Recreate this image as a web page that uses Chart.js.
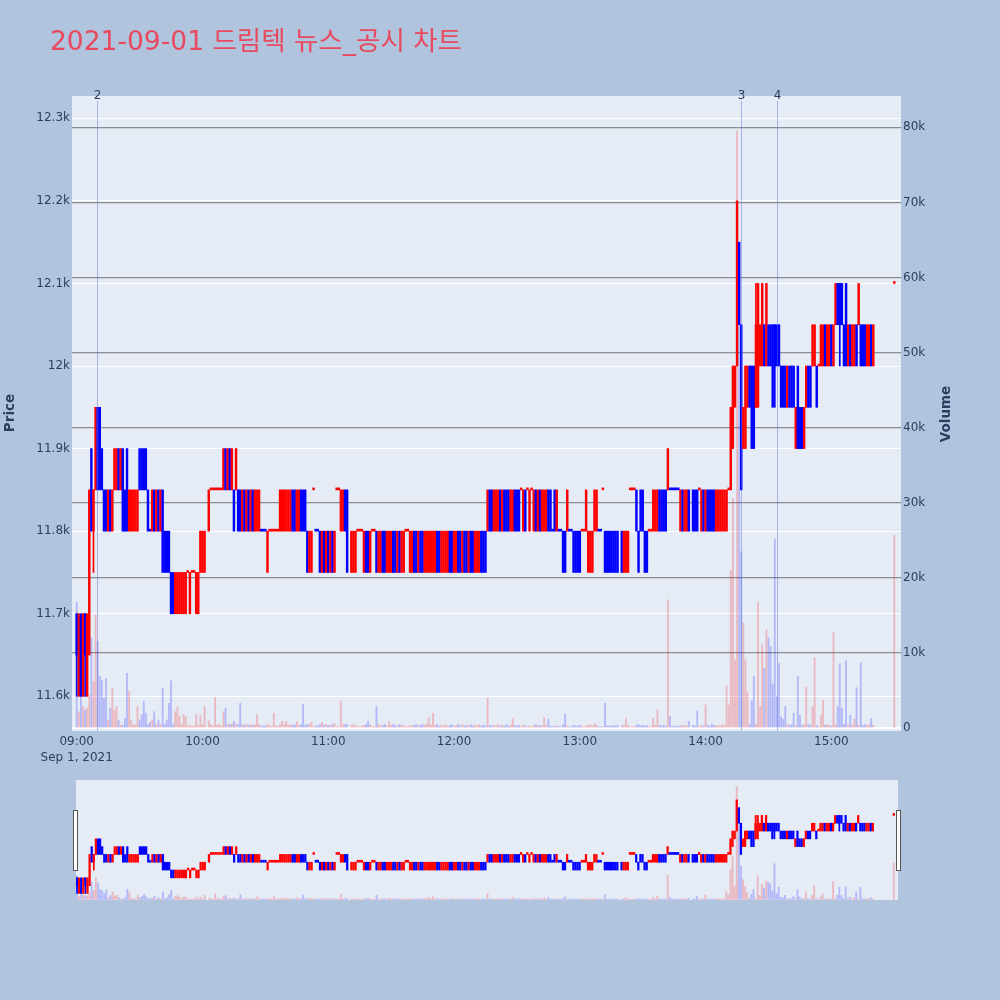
<!DOCTYPE html>
<html>
<head>
<meta charset="utf-8">
<script src="https://cdn.jsdelivr.net/npm/chart.js@4.4.0/dist/chart.umd.min.js"></script>
<style>
  body { margin: 0; background: #b0c4de; width: 1000px; height: 1000px; overflow: hidden; position: relative; }
  #main { position: absolute; left: 0; top: 0; }
  #slider { position: absolute; left: 70px; top: 775px; }
</style>
</head>
<body>
<canvas id="main" width="1000" height="775"></canvas>
<canvas id="slider" width="834" height="130"></canvas>
<script>
// minutes after 09:00, one candle per minute
var minutes = [
  0,1,2,3,4,5,6,7,8,9,
  10,11,12,13,14,15,16,17,18,19,
  20,21,22,23,24,25,26,27,28,29,
  30,31,32,33,34,35,36,37,38,39,
  40,41,42,43,44,45,46,47,48,49,
  50,51,52,53,54,55,56,57,58,59,
  60,61,63,64,65,66,67,68,69,
  70,71,72,73,74,75,76,77,78,79,
  80,81,82,83,84,85,86,87,88,89,
  90,91,92,93,94,95,96,97,98,99,
  100,101,102,103,104,105,106,107,108,109,
  110,111,112,113,114,115,116,117,118,119,
  120,121,122,123,124,125,126,127,128,129,
  131,132,133,134,135,136,137,138,139,
  140,141,142,143,144,145,146,147,148,149,
  150,151,152,153,154,155,156,157,158,159,
  160,161,162,163,164,165,166,167,168,169,
  170,171,172,173,174,175,176,177,178,179,
  180,181,182,183,184,185,186,187,188,189,
  190,191,192,193,194,195,196,197,198,199,
  200,201,202,203,204,205,206,207,208,209,
  210,211,212,213,214,215,216,217,218,219,
  220,221,222,223,224,225,226,227,228,229,
  230,231,232,233,234,235,236,237,238,239,
  240,241,242,243,244,245,246,247,248,249,
  250,251,252,253,254,255,256,257,258,
  260,261,262,263,264,265,266,267,268,269,
  270,271,272,273,274,275,276,277,278,279,
  280,281,282,283,284,285,286,287,288,289,
  290,291,292,294,295,296,297,298,299,
  300,301,302,303,304,305,306,307,308,309,
  310,311,312,313,314,315,316,317,318,319,
  320,321,322,323,324,325,326,327,328,329,
  330,331,332,333,334,335,336,337,338,339,
  340,341,342,343,344,345,346,347,348,349,
  350,351,352,353,354,355,356,357,358,359,
  360,361,362,363,364,365,366,367,368,369,
  370,371,372,373,374,375,376,377,378,379,
  380,390
];
var opens = [
  11700,11600,11700,11600,11700,11600,11650,11900,11800,11850,
  11950,11950,11900,11850,11850,11800,11850,11800,11850,11850,
  11900,11850,11900,11850,11900,11800,11800,11800,11800,11800,
  11900,11900,11900,11900,11850,11800,11800,11850,11800,11850,
  11800,11850,11800,11800,11800,11750,11750,11700,11700,11700,
  11700,11700,11700,11750,11700,11750,11750,11700,11700,11750,
  11750,11750,11800,11850,11850,11850,11850,11850,11850,
  11850,11900,11850,11900,11850,11850,11850,11850,11850,11800,
  11850,11800,11850,11800,11850,11800,11800,11800,11800,11800,
  11800,11750,11800,11800,11800,11800,11800,11800,11800,11800,
  11800,11800,11800,11850,11850,11800,11800,11850,11850,11850,
  11800,11750,11750,11850,11800,11800,11800,11750,11800,11750,
  11800,11750,11800,11750,11850,11850,11800,11800,11850,11850,
  11750,11750,11750,11800,11800,11800,11750,11800,11800,
  11750,11800,11800,11800,11750,11750,11800,11800,11750,11750,
  11750,11800,11800,11750,11800,11750,11750,11800,11800,11750,
  11750,11800,11800,11750,11800,11800,11750,11750,11750,11750,
  11750,11750,11800,11800,11750,11750,11750,11750,11800,11800,
  11750,11750,11800,11800,11750,11800,11800,11750,11800,11800,
  11750,11750,11750,11800,11800,11800,11800,11850,11850,11800,
  11800,11800,11850,11800,11850,11850,11850,11800,11800,11850,
  11850,11850,11850,11800,11850,11850,11800,11850,11800,11850,
  11800,11850,11800,11800,11800,11850,11850,11800,11850,11800,
  11800,11800,11800,11800,11800,11800,11800,11800,11800,11800,
  11800,11800,11800,11800,11750,11750,11750,11800,11800,11800,
  11800,11850,11800,11800,11800,11800,11800,11800,11800,
  11800,11750,11750,11750,11850,11850,11850,11850,11800,11850,
  11850,11800,11800,11800,11800,11800,11800,11800,11850,11850,
  11850,11850,11850,11850,11850,11850,11850,11850,11800,11850,
  11800,11800,11850,11850,11850,11850,11850,11800,11850,
  11800,11850,11850,11850,11850,11800,11800,11800,11800,11800,
  11800,11850,11850,11900,11950,12000,12150,12050,11900,11900,
  11950,12000,12000,12000,11950,11950,12000,12000,12050,12000,
  12050,12050,12050,12050,12050,12050,12000,12000,12000,11950,
  12000,12000,12000,11900,12000,11950,11950,11900,11950,12000,
  12000,12000,12000,12000,12000,12000,12000,12050,12000,12000,
  12050,12000,12050,12100,12100,12100,12050,12100,12000,12050,
  12000,12000,12050,12050,12050,12050,12050,12000,12000,12050,
  12000,12100
];
var closes = [
  11650,11700,11600,11700,11650,11700,11850,11800,11850,11950,
  11850,11850,11850,11800,11800,11850,11800,11850,11900,11900,
  11850,11900,11800,11800,11800,11850,11850,11850,11850,11850,
  11850,11850,11850,11850,11800,11800,11850,11800,11850,11800,
  11850,11750,11750,11750,11750,11700,11700,11750,11750,11750,
  11750,11750,11750,11750,11750,11750,11750,11750,11750,11800,
  11800,11800,11850,11850,11850,11850,11850,11850,11850,
  11900,11850,11900,11850,11900,11800,11900,11800,11800,11850,
  11800,11850,11800,11850,11800,11850,11850,11850,11800,11800,
  11800,11800,11800,11800,11800,11800,11800,11850,11850,11850,
  11850,11850,11850,11800,11800,11850,11850,11800,11800,11800,
  11750,11800,11800,11850,11800,11800,11750,11800,11750,11800,
  11750,11800,11750,11800,11850,11850,11850,11850,11800,11750,
  11800,11800,11800,11800,11800,11800,11800,11750,11750,
  11800,11800,11800,11750,11800,11800,11750,11750,11800,11800,
  11800,11750,11750,11800,11750,11800,11800,11800,11800,11800,
  11800,11750,11750,11800,11750,11750,11800,11800,11800,11800,
  11800,11800,11750,11750,11800,11800,11800,11800,11750,11750,
  11800,11800,11750,11750,11800,11750,11750,11800,11750,11750,
  11800,11800,11800,11750,11750,11750,11850,11800,11800,11850,
  11850,11850,11800,11850,11800,11800,11800,11850,11850,11800,
  11800,11800,11850,11850,11800,11850,11850,11850,11850,11800,
  11850,11800,11850,11850,11850,11800,11800,11800,11800,11850,
  11800,11800,11750,11750,11850,11800,11800,11750,11750,11750,
  11750,11800,11800,11850,11800,11800,11800,11850,11850,11800,
  11800,11850,11750,11750,11750,11750,11750,11750,11750,
  11750,11800,11800,11800,11850,11850,11850,11800,11750,11800,
  11800,11750,11750,11800,11800,11850,11850,11850,11800,11800,
  11800,11800,11900,11850,11850,11850,11850,11850,11850,11800,
  11850,11850,11800,11800,11800,11800,11850,11850,11800,
  11850,11800,11800,11800,11800,11850,11850,11850,11850,11850,
  11850,11850,11950,12000,12000,12200,12050,11850,11950,12000,
  12000,11950,11900,11900,12050,12100,12050,12100,12000,12100,
  12000,12000,11950,12000,12000,12000,11950,11950,11950,12000,
  11950,11950,11950,11950,11900,11900,11900,11950,12000,11950,
  11950,12050,12050,11950,12000,12050,12050,12000,12050,12050,
  12000,12050,12100,12050,12050,12050,12000,12000,12050,12000,
  12050,12050,12000,12100,12000,12000,12000,12050,12050,12000,
  12050,12100
];
var volumes = [
  16800,2200,5800,2900,2400,2700,4400,12000,6200,15100,
  11500,6900,6400,4000,6600,1100,2700,5300,2400,2900,
  1100,400,400,1300,7300,4900,1100,400,500,2900,
  1100,1800,3600,2000,500,800,1100,2200,500,1100,
  500,5300,500,1100,3300,6300,500,2200,2800,1600,
  500,1800,1600,300,400,300,300,1800,400,1700,
  500,2900,1000,500,300,4100,400,500,300,
  2200,2700,500,500,600,900,500,500,3300,500,
  400,500,400,500,400,500,1800,500,300,300,
  300,500,300,300,2000,300,300,500,900,500,
  900,400,500,400,500,900,400,500,3200,400,
  500,500,800,200,300,300,500,800,400,500,
  400,400,500,600,200,200,3600,500,500,500,
  400,500,400,200,200,300,400,500,900,
  500,200,200,2900,500,300,400,500,300,900,
  400,500,400,300,500,400,300,200,200,400,
  300,400,500,300,400,500,400,600,1400,500,
  2000,400,500,300,400,300,500,300,400,500,
  300,400,500,300,500,300,400,300,500,300,
  400,300,500,300,400,300,4000,400,300,400,
  300,500,300,400,300,500,300,400,1300,400,
  300,400,200,400,300,200,300,200,400,500,
  300,400,300,1400,400,1200,300,200,300,300,
  200,200,500,1900,300,200,200,400,300,300,
  400,200,200,300,400,500,300,600,400,200,
  200,200,3300,300,300,300,400,300,400,
  300,400,1300,400,200,200,200,400,500,300,
  400,300,400,200,200,1300,400,2400,400,300,
  400,300,17100,1600,300,200,300,200,400,300,
  400,300,900,400,300,2300,200,400,300,
  3100,400,300,500,400,300,400,300,500,400,
  5600,3100,21000,30600,9100,79500,53500,23500,14000,9100,
  4700,500,3700,6900,500,16800,2900,11100,8000,13100,
  12000,10900,5900,25200,4200,8600,1500,1200,2900,500,
  400,500,2000,400,6900,1700,400,500,5500,500,
  400,2900,9400,400,200,1700,3700,400,500,400,
  300,12700,500,2900,8600,2700,500,9000,400,1700,
  400,1200,5400,400,8700,400,500,400,500,1300,
  400,25700
];
// candles whose wick goes past the body
var wickMinutes = [0, 4, 8, 324, 333, 364];
var wickLows = [11600, 11600, 11750, 11950, 11950, 12000];
var wickHighs = [11700, 11700, 11850, 12100, 12050, 12100];

var priceTicks = [11600, 11700, 11800, 11900, 12000, 12100, 12200, 12300];
var volumeTicks = [0, 10000, 20000, 30000, 40000, 50000, 60000, 70000, 80000];
var timeTicks = [0, 60, 120, 180, 240, 300, 360];
var timeLabels = ['09:00', '10:00', '11:00', '12:00', '13:00', '14:00', '15:00'];
var dateLabel = 'Sep 1, 2021';

// news / disclosure markers
var markerMinutes = [9.8, 316.7, 334.2];
var markerLabels = ['2', '3', '4'];

var titleText = '2021-09-01 드림텍 뉴스_공시 차트';
var ink = '#2a3f5f';
var font = 'DejaVu Sans';

// plotly rule: flat candle takes direction from previous close
var up = [];
for (var i = 0; i < closes.length; i++) {
  if (closes[i] > opens[i]) up.push(true);
  else if (closes[i] < opens[i]) up.push(false);
  else if (i === 0) up.push(true);
  else if (closes[i] > closes[i - 1]) up.push(true);
  else if (closes[i] < closes[i - 1]) up.push(false);
  else up.push(up[i - 1]);
}
var candleColors = up.map(function(u) { return u ? '#ff0000' : '#0000ff'; });
var volColors = up.map(function(u) { return u ? 'rgba(255,0,0,0.22)' : 'rgba(0,0,255,0.22)'; });
var wickColors = wickMinutes.map(function(m) { return candleColors[minutes.indexOf(m)]; });

function makeDatasets(candleW, volW) {
  return [
    {
      type: 'bar', yAxisID: 'y1', grouped: false, barThickness: volW,
      data: minutes.map(function(m, i) { return {x: m, y: volumes[i]}; }),
      backgroundColor: volColors
    },
    {
      type: 'bar', yAxisID: 'y', grouped: false, barThickness: candleW, minBarLength: 2,
      data: minutes.map(function(m, i) { return {x: m, y: [opens[i], closes[i]]}; }),
      backgroundColor: candleColors
    },
    {
      type: 'bar', yAxisID: 'y', grouped: false, barThickness: 1,
      data: wickMinutes.map(function(m, i) { return {x: m, y: [wickLows[i], wickHighs[i]]}; }),
      backgroundColor: wickColors
    }
  ];
}

var plotBg = {
  id: 'plotBg',
  beforeDraw: function(chart) {
    var a = chart.chartArea, c = chart.ctx;
    c.save();
    c.fillStyle = '#e5ecf6';
    c.fillRect(a.left, a.top, a.right - a.left, a.bottom - a.top);
    c.restore();
  }
};

var overlay = {
  id: 'overlay',
  afterDatasetsDraw: function(chart) {
    var c = chart.ctx, a = chart.chartArea, xs = chart.scales.x;
    c.save();
    c.strokeStyle = 'rgba(90,110,220,0.45)';
    c.lineWidth = 1;
    c.fillStyle = ink;
    c.font = '12px "' + font + '"';
    c.textAlign = 'center';
    c.textBaseline = 'middle';
    markerMinutes.forEach(function(m, i) {
      var x = Math.round(xs.getPixelForValue(m)) + 0.5;
      c.beginPath();
      c.moveTo(x, a.top + 5);
      c.lineTo(x, a.bottom);
      c.stroke();
      c.fillText(markerLabels[i], x, a.top);
    });
    c.restore();
  },
  afterDraw: function(chart) {
    var c = chart.ctx;
    c.save();
    c.fillStyle = '#e9495f';
    c.font = '26.5px "' + font + '", "Noto Sans CJK KR"';
    c.textAlign = 'left';
    c.textBaseline = 'alphabetic';
    c.fillText(titleText, 50, 50);

    c.fillStyle = ink;
    c.font = 'bold 13.5px "' + font + '"';
    c.textAlign = 'center';
    c.textBaseline = 'middle';
    c.translate(10, 413);
    c.rotate(-Math.PI / 2);
    c.fillText('Price', 0, 0);
    c.restore();

    c.save();
    c.fillStyle = ink;
    c.font = 'bold 13.5px "' + font + '"';
    c.textAlign = 'center';
    c.textBaseline = 'middle';
    c.translate(946, 414);
    c.rotate(-Math.PI / 2);
    c.fillText('Volume', 0, 0);
    c.restore();
  }
};

var tickFont = {family: font, size: 12};

new Chart(document.getElementById('main'), {
  type: 'bar',
  data: {datasets: makeDatasets(1.8, 1.2)},
  options: {
    responsive: false,
    animation: false,
    devicePixelRatio: 1,
    layout: {padding: {top: 96, left: 0, right: 42, bottom: 9}},
    plugins: {legend: {display: false}, tooltip: {enabled: false}},
    scales: {
      x: {
        type: 'linear', min: -2.24, max: 393.2, offset: false,
        grid: {display: false, drawTicks: false},
        border: {display: false},
        afterFit: function(s) { s.height = 35; },
        afterBuildTicks: function(s) { s.ticks = timeTicks.map(function(v) { return {value: v}; }); },
        ticks: {
          autoSkip: false, maxRotation: 0, padding: 3, color: ink,
          font: {family: font, size: 12, lineHeight: 1.35},
          callback: function(v, i) { return i === 0 ? [timeLabels[i], dateLabel] : timeLabels[i]; }
        }
      },
      y: {
        type: 'linear', position: 'left', min: 11558, max: 12327,
        grid: {color: '#ffffff', lineWidth: 1, drawTicks: false},
        border: {display: false},
        afterFit: function(s) { s.width = 72; },
        afterBuildTicks: function(s) { s.ticks = priceTicks.map(function(v) { return {value: v}; }); },
        ticks: {
          padding: 2, color: ink, font: tickFont,
          callback: function(v) { return (v / 1000) + 'k'; }
        }
      },
      y1: {
        type: 'linear', position: 'right', min: -370, max: 84170,
        grid: {
          drawTicks: false,
          color: function(ctx) { return ctx.tick && ctx.tick.value === 0 ? '#ffffff' : 'rgba(110,110,110,0.75)'; },
          lineWidth: function(ctx) { return ctx.tick && ctx.tick.value === 0 ? 2 : 1.3; }
        },
        border: {display: false},
        afterFit: function(s) { s.width = 57; },
        afterBuildTicks: function(s) { s.ticks = volumeTicks.map(function(v) { return {value: v}; }); },
        ticks: {
          padding: 2, color: ink, font: tickFont,
          callback: function(v) { return v === 0 ? '0' : (v / 1000) + 'k'; }
        }
      }
    }
  },
  plugins: [plotBg, overlay]
});

var handles = {
  id: 'handles',
  afterDraw: function(chart) {
    var c = chart.ctx, a = chart.chartArea;
    c.save();
    c.fillStyle = '#ffffff';
    c.strokeStyle = '#555555';
    c.lineWidth = 1;
    [a.left - 2.5, a.right - 1.5].forEach(function(x) {
      c.fillRect(x, 35.5, 4, 60);
      c.strokeRect(x, 35.5, 4, 60);
    });
    c.restore();
  }
};

new Chart(document.getElementById('slider'), {
  type: 'bar',
  data: {datasets: makeDatasets(1.6, 1.2)},
  options: {
    responsive: false,
    animation: false,
    devicePixelRatio: 1,
    layout: {padding: {top: 5, left: 6, right: 6, bottom: 5}},
    plugins: {legend: {display: false}, tooltip: {enabled: false}},
    scales: {
      x: {type: 'linear', min: -0.5, max: 392, offset: false, display: false},
      y: {type: 'linear', min: 11558, max: 12327, display: false},
      y1: {type: 'linear', min: -370, max: 84170, display: false}
    }
  },
  plugins: [plotBg, handles]
});
</script>
</body>
</html>
